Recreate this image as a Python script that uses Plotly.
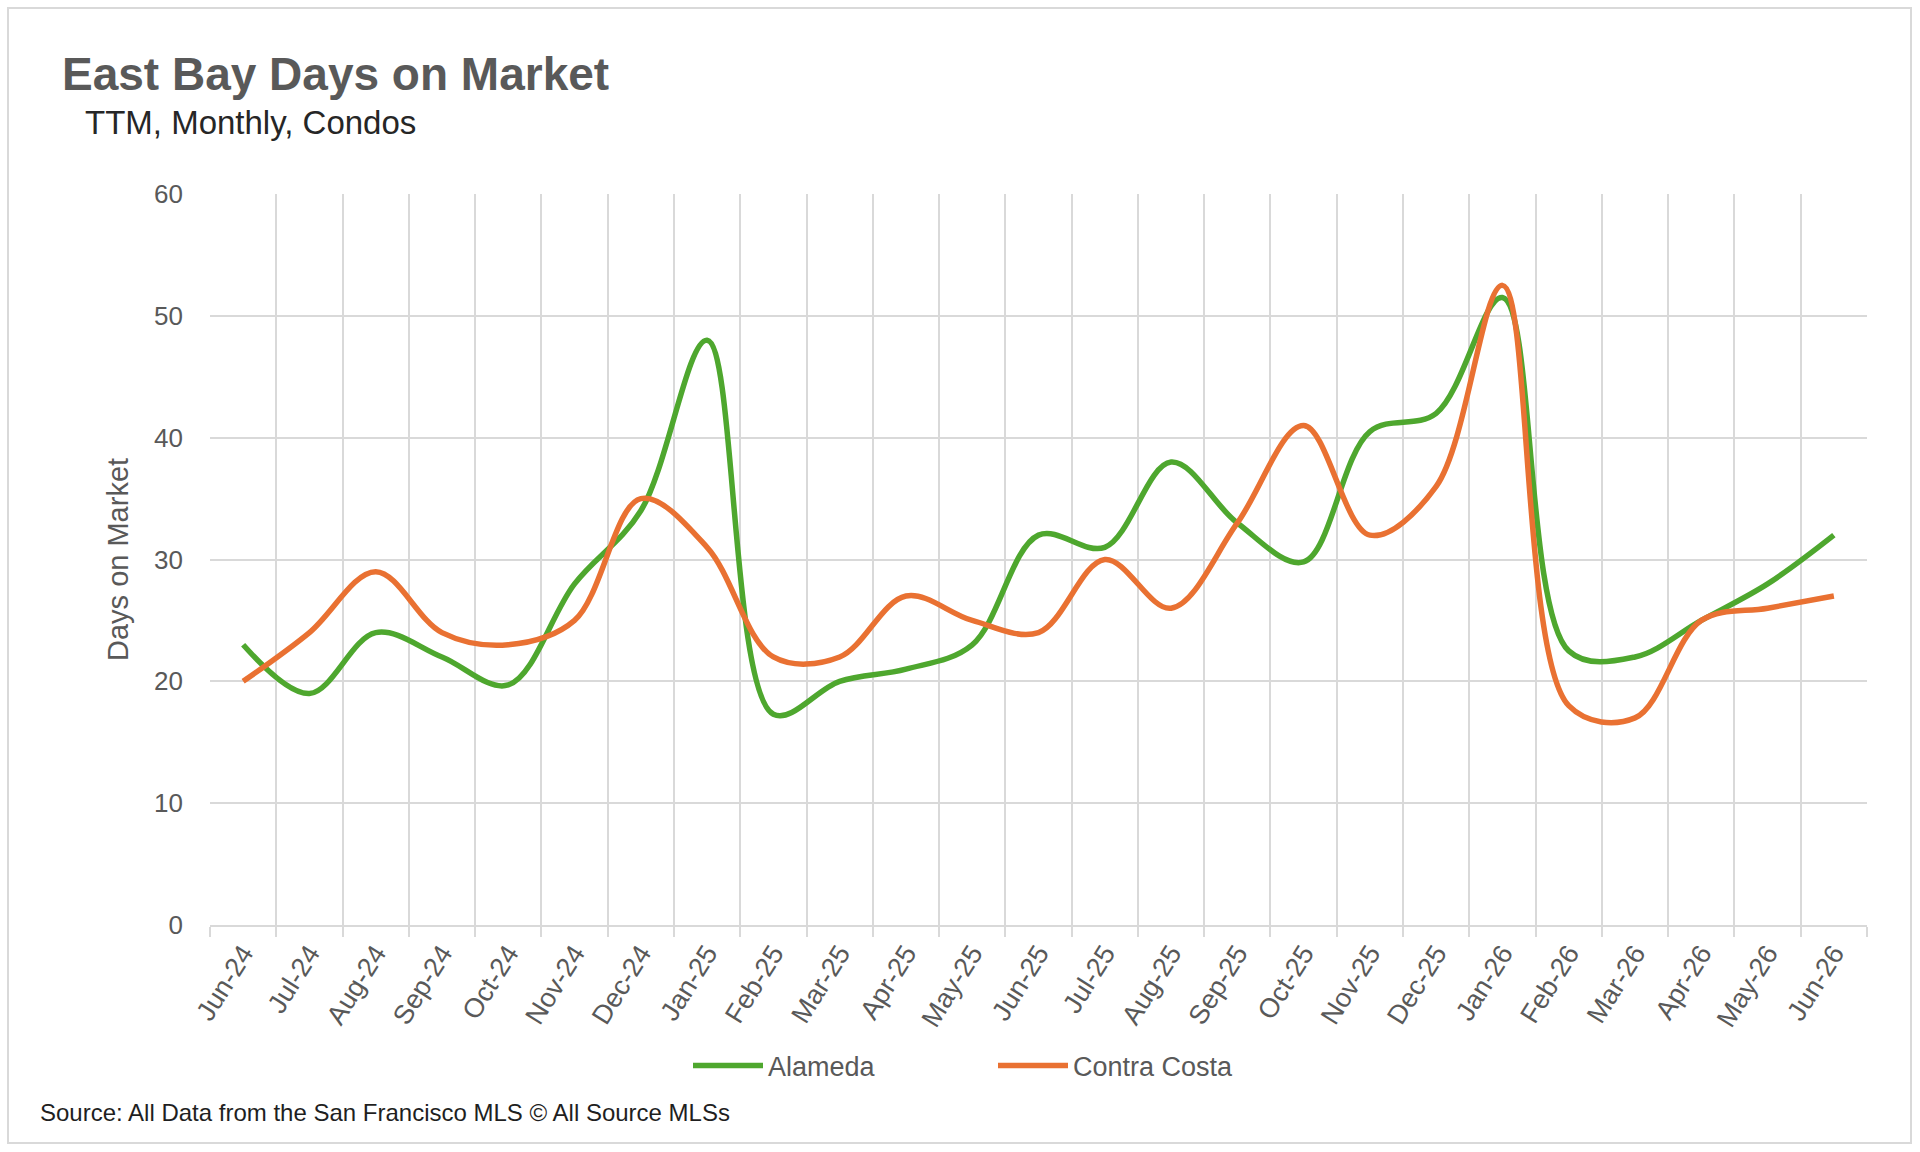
"""
East Bay condo days on market, Alameda vs Contra Costa (TTM, monthly).
"""

import plotly.graph_objects as go

MONTHS = [
    "Jun-24", "Jul-24", "Aug-24", "Sep-24", "Oct-24", "Nov-24", "Dec-24",
    "Jan-25", "Feb-25", "Mar-25", "Apr-25", "May-25", "Jun-25", "Jul-25",
    "Aug-25", "Sep-25", "Oct-25", "Nov-25", "Dec-25", "Jan-26", "Feb-26",
    "Mar-26", "Apr-26", "May-26", "Jun-26",
]
ALAMEDA = [23, 19, 24, 22, 19.7, 28, 34, 48, 17.3, 20, 21, 23, 32, 31,
           38, 33, 29.8, 40.5, 42, 51.5, 22.5, 22, 25, 28, 32]
CONTRA_COSTA = [20, 24, 29, 24, 23, 25, 35, 31, 22, 22, 27, 25, 24, 30,
                26, 33, 41, 32, 36, 52.5, 18, 17, 25, 26, 27]
Y_TICKS = [0, 10, 20, 30, 40, 50, 60]

GREEN = "#4EA72E"
ORANGE = "#E97132"
GRID = "#D9D9D9"
TEXT_GREY = "#595959"
FONT = "Liberation Sans"

W, H = 1920, 1152
L, R, T, B = 210, 53, 194, 227
PLOT_W = W - L - R
PLOT_H = H - T - B


def px(x):
    return (x - L) / PLOT_W


def py(y):
    return (H - B - y) / PLOT_H


def build_traces():
    series = [("Alameda", ALAMEDA, GREEN), ("Contra Costa", CONTRA_COSTA, ORANGE)]
    traces = []
    for name, vals, color in series:
        traces.append(go.Scatter(
            x=MONTHS,
            y=vals,
            mode="lines",
            name=name,
            line=dict(color=color, width=5.5, shape="spline", smoothing=1.0),
        ))
    return traces


def build_fig():
    fig = go.Figure(data=build_traces())
    fig.update_layout(
        width=W,
        height=H,
        margin=dict(l=L, r=R, t=T, b=B),
        paper_bgcolor="white",
        plot_bgcolor="white",
        font=dict(family=FONT, color=TEXT_GREY),
        showlegend=True,
        legend=dict(
            orientation="h",
            x=px(688),
            y=py(1066),
            xanchor="left",
            yanchor="middle",
            font=dict(size=27, color=TEXT_GREY),
            entrywidth=220,
            itemwidth=70,
        ),
        xaxis=dict(
            type="category",
            range=[-0.5, len(MONTHS) - 0.5],
            tickson="boundaries",
            ticks="outside",
            ticklen=10,
            tickwidth=1.5,
            tickcolor=GRID,
            showgrid=True,
            gridcolor=GRID,
            gridwidth=1.5,
            showline=True,
            linecolor=GRID,
            linewidth=1.5,
            tickangle=-58,
            tickfont=dict(size=27, color=TEXT_GREY),
            zeroline=False,
        ),
        yaxis=dict(
            range=[0, 60],
            tickvals=Y_TICKS,
            showgrid=True,
            gridcolor=GRID,
            gridwidth=1.5,
            zeroline=False,
            ticks="",
            ticklabelstandoff=26,
            tickfont=dict(size=26, color=TEXT_GREY),
        ),
    )

    fig.add_annotation(
        text="<b>East Bay Days on Market</b>", xref="paper", yref="paper",
        x=px(60), y=py(74), xanchor="left", yanchor="middle", showarrow=False,
        font=dict(size=46, color=TEXT_GREY, family=FONT),
    )
    fig.add_annotation(
        text="TTM, Monthly, Condos", xref="paper", yref="paper",
        x=px(83), y=py(123), xanchor="left", yanchor="middle", showarrow=False,
        font=dict(size=33, color="#262626", family=FONT),
    )
    fig.add_annotation(
        text="Days on Market", xref="paper", yref="paper",
        x=px(118), y=py(560), xanchor="center", yanchor="middle",
        textangle=-90, showarrow=False,
        font=dict(size=29, color=TEXT_GREY, family=FONT),
    )
    fig.add_annotation(
        text="Source: All Data from the San Francisco MLS © All Source MLSs",
        xref="paper", yref="paper",
        x=px(38), y=py(1112), xanchor="left", yanchor="middle", showarrow=False,
        font=dict(size=24, color="#1F1F1F", family=FONT),
    )
    # chart frame
    fig.add_shape(
        type="rect", xref="paper", yref="paper",
        x0=px(8), x1=px(1911), y0=py(1143), y1=py(8),
        line=dict(color=GRID, width=2), fillcolor="rgba(0,0,0,0)", layer="below",
    )
    return fig


def main():
    fig = build_fig()
    # drop the browser's default body margin so the figure sits at 0,0
    fig.write_html(
        "out.html",
        config={"displayModeBar": False},
        post_script="document.body.style.margin='0';",
    )


if __name__ == "__main__":
    main()
